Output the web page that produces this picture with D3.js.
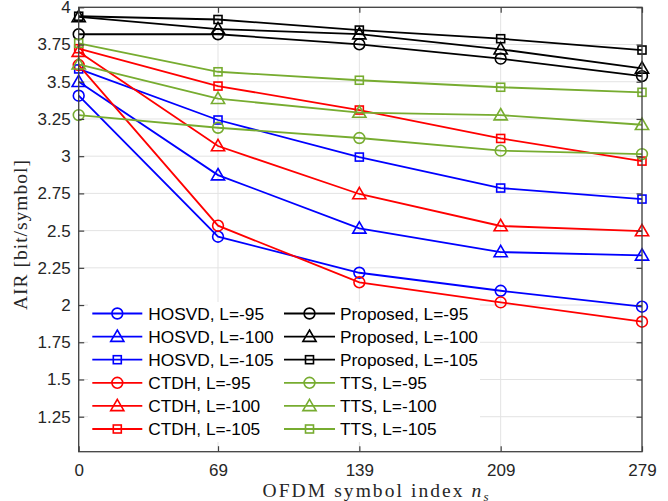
<!DOCTYPE html>
<html><head><meta charset="utf-8">
<script src="https://cdn.jsdelivr.net/npm/d3@7/dist/d3.min.js"></script>
<style>body{margin:0;background:#fff}svg{display:block}</style>
</head><body>
<svg id="chart" width="668" height="501"></svg>
<script>
// ---------- data ----------
const symbolIndex = [0, 69, 139, 209, 279];
const xTickValues = [0, 69, 139, 209, 279];
const yTickValues = [1.25, 1.5, 1.75, 2, 2.25, 2.5, 2.75, 3, 3.25, 3.5, 3.75, 4];
const yTickLabels = ["1.25", "1.5", "1.75", "2", "2.25", "2.5", "2.75", "3", "3.25", "3.5", "3.75", "4"];

const hosvd95  = [3.406, 2.459, 2.217, 2.096, 1.989];
const hosvd100 = [3.500, 2.873, 2.515, 2.356, 2.334];
const hosvd105 = [3.586, 3.243, 2.994, 2.786, 2.712];
const ctdh95   = [3.612, 2.533, 2.153, 2.018, 1.888];
const ctdh100  = [3.702, 3.068, 2.746, 2.531, 2.497];
const ctdh105  = [3.722, 3.471, 3.310, 3.119, 2.967];
const prop95   = [3.819, 3.819, 3.751, 3.655, 3.538];
const prop100  = [3.935, 3.854, 3.820, 3.718, 3.590];
const prop105  = [3.940, 3.918, 3.847, 3.789, 3.713];
const tts95    = [3.276, 3.191, 3.122, 3.037, 3.014];
const tts100   = [3.617, 3.386, 3.293, 3.276, 3.211];
const tts105   = [3.758, 3.567, 3.510, 3.463, 3.429];

const seriesNames = [
  "HOSVD, L=-95", "HOSVD, L=-100", "HOSVD, L=-105",
  "CTDH, L=-95", "CTDH, L=-100", "CTDH, L=-105",
  "Proposed, L=-95", "Proposed, L=-100", "Proposed, L=-105",
  "TTS, L=-95", "TTS, L=-100", "TTS, L=-105"
];
const seriesValues = [hosvd95, hosvd100, hosvd105, ctdh95, ctdh100, ctdh105,
                      prop95, prop100, prop105, tts95, tts100, tts105];
const seriesColors = ["#0000ff","#0000ff","#0000ff","#ff0000","#ff0000","#ff0000",
                      "#000000","#000000","#000000","#77ac30","#77ac30","#77ac30"];
const seriesMarkers = ["circle","triangle","square","circle","triangle","square",
                       "circle","triangle","square","circle","triangle","square"];

// ---------- layout ----------
const L = 78.7, R = 642, T = 7.3, B = 451.7;
const svg = d3.select("#chart");
const x = d3.scaleLinear().domain([0, 279]).range([L, R]);
const y = d3.scaleLinear().domain([1.015, 4]).range([B, T]);
const axisColor = "#404040", textColor = "#262626";
const tickFont = "'Liberation Sans', Arial, Helvetica, sans-serif";
const serif = "'Liberation Serif', 'Times New Roman', serif";

// grid
const grid = svg.append("g");
grid.selectAll("line.gy").data(yTickValues).enter().append("line")
  .attr("x1", L).attr("x2", R).attr("y1", d => y(d)).attr("y2", d => y(d))
  .attr("stroke", "#e3e3e3").attr("stroke-width", 1);
grid.selectAll("line.gx").data(xTickValues).enter().append("line")
  .attr("y1", T).attr("y2", B).attr("x1", d => x(d)).attr("x2", d => x(d))
  .attr("stroke", "#e3e3e3").attr("stroke-width", 1);

// marker drawing
function drawMarker(g, type, cx, cy, color) {
  if (type === "circle") {
    g.append("circle").attr("cx", cx).attr("cy", cy).attr("r", 5.4)
      .attr("fill", "none").attr("stroke", color).attr("stroke-width", 1.6);
  } else if (type === "triangle") {
    const s = 6.6;
    g.append("path").attr("d", `M${cx},${cy - s}L${cx + s},${cy + s * 0.72}L${cx - s},${cy + s * 0.72}Z`)
      .attr("fill", "none").attr("stroke", color).attr("stroke-width", 1.6).attr("stroke-linejoin", "miter");
  } else {
    const h = 4;
    g.append("rect").attr("x", cx - h).attr("y", cy - h).attr("width", 2 * h).attr("height", 2 * h)
      .attr("fill", "none").attr("stroke", color).attr("stroke-width", 1.6);
  }
}

// series
const lineGen = d3.line().x((d, i) => x(symbolIndex[i])).y(d => y(d));
const plotG = svg.append("g");
seriesValues.forEach((vals, k) => {
  const g = plotG.append("g");
  g.append("path").attr("d", lineGen(vals)).attr("fill", "none")
    .attr("stroke", seriesColors[k]).attr("stroke-width", 1.8);
  vals.forEach((v, i) => drawMarker(g, seriesMarkers[k], x(symbolIndex[i]), y(v), seriesColors[k]));
});

// axes box
svg.append("rect").attr("x", L).attr("y", T).attr("width", R - L).attr("height", B - T)
  .attr("fill", "none").attr("stroke", axisColor).attr("stroke-width", 1.3);

// ticks (inward, mirrored)
const tl = 5.5;
const xAxisB = d3.axisBottom(x).tickValues(xTickValues).tickSizeInner(-tl).tickSizeOuter(0).tickPadding(12);
const gxB = svg.append("g").attr("transform", `translate(0,${B})`).call(xAxisB);
const xAxisT = d3.axisTop(x).tickValues(xTickValues).tickSizeInner(-tl).tickSizeOuter(0).tickFormat("");
const gxT = svg.append("g").attr("transform", `translate(0,${T})`).call(xAxisT);
const yAxisL = d3.axisLeft(y).tickValues(yTickValues).tickSizeInner(-tl).tickSizeOuter(0).tickPadding(8)
  .tickFormat((d, i) => yTickLabels[i]);
const gyL = svg.append("g").attr("transform", `translate(${L},0)`).call(yAxisL);
const yAxisR = d3.axisRight(y).tickValues(yTickValues).tickSizeInner(-tl).tickSizeOuter(0).tickFormat("");
const gyR = svg.append("g").attr("transform", `translate(${R},0)`).call(yAxisR);
[gxB, gxT, gyL, gyR].forEach(g => {
  g.select(".domain").remove();
  g.selectAll(".tick line").attr("stroke", axisColor).attr("stroke-width", 1.2);
  g.selectAll(".tick text").attr("fill", textColor).attr("font-size", "17px")
    .attr("font-family", tickFont);
});

// axis labels
svg.append("text").attr("x", 375.5).attr("y", 497).attr("text-anchor", "middle")
  .attr("font-family", serif).attr("font-size", "19.5px")
  .attr("textLength", 226).attr("lengthAdjust", "spacing")
  .attr("fill", textColor)
  .html('OFDM symbol index <tspan font-style="italic">n</tspan><tspan font-size="13px" font-style="italic" dy="4">s</tspan>');
svg.append("text").attr("transform", "translate(27,235) rotate(-90)").attr("text-anchor", "middle")
  .attr("font-family", serif).attr("font-size", "19.5px")
  .attr("textLength", 150).attr("lengthAdjust", "spacing")
  .attr("fill", textColor).text("AIR [bit/symbol]");

// legend
const legend = svg.append("g");
legend.append("rect").attr("x", 88).attr("y", 302).attr("width", 392).attr("height", 140)
  .attr("fill", "#fff");
const rowY0 = 313.5, rowDy = 23.1;
const cols = [{x1: 92.3, x2: 142.3, tx: 148.3}, {x1: 284, x2: 335, tx: 340}];
seriesNames.forEach((name, k) => {
  const c = cols[Math.floor(k / 6)], r = k % 6;
  const yy = rowY0 + r * rowDy;
  const g = legend.append("g");
  g.append("line").attr("x1", c.x1).attr("x2", c.x2).attr("y1", yy).attr("y2", yy)
    .attr("stroke", seriesColors[k]).attr("stroke-width", 1.8);
  drawMarker(g, seriesMarkers[k], (c.x1 + c.x2) / 2, yy, seriesColors[k]);
  g.append("text").attr("x", c.tx).attr("y", yy).attr("dy", "0.35em")
    .attr("font-family", tickFont).attr("font-size", "17.3px").attr("fill", "#000").text(name);
});
</script>
</body></html>
